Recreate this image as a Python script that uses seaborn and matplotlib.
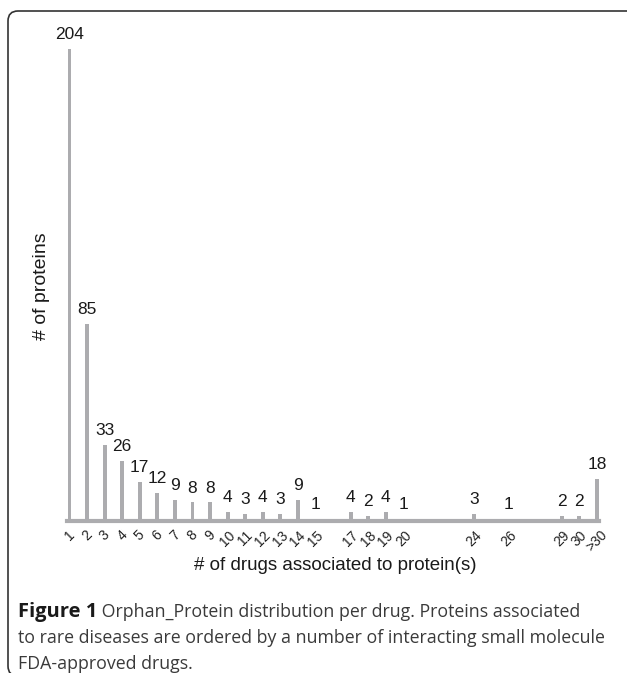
import matplotlib
matplotlib.use("Agg")
import matplotlib.pyplot as plt
import seaborn as sns
import pandas as pd
from matplotlib.patches import FancyBboxPatch
from matplotlib.transforms import IdentityTransform

# ---- data ----
drug_labels = ["1", "2", "3", "4", "5", "6", "7", "8", "9", "10", "11", "12", "13", "14", "15",
               "17", "18", "19", "20", "24", "26", "29", "30", ">30"]
protein_counts = [204, 85, 33, 26, 17, 12, 9, 8, 8, 4, 3, 4, 3, 9, 1,
                  4, 2, 4, 1, 3, 1, 2, 2, 18]
x_title = "# of drugs associated to protein(s)"
y_title = "# of proteins"
caption_bold = "Figure 1"
caption_lines = [" Orphan_Protein distribution per drug. Proteins associated",
                 "to rare diseases are ordered by a number of interacting small molecule",
                 "FDA-approved drugs."]

positions = [31 if l == ">30" else int(l) for l in drug_labels]
df = pd.DataFrame({"pos": positions, "count": protein_counts, "label": drug_labels})

sns.set_theme(style="white")
plt.rcParams["font.family"] = ["Liberation Sans", "DejaVu Sans"]

W, H = 627, 673
fig = plt.figure(figsize=(W / 100, H / 100), dpi=100)
ax = fig.add_axes([67 / W, 1 - 521 / H, (599 - 67) / W, (521 - 49) / H])

bar_color = "#acacaf"
sns.barplot(data=df, x="pos", y="count", native_scale=True, color=bar_color,
            saturation=1, width=0.22, ax=ax, linewidth=0)

ax.set_xlim(0.86, 31.12)
ax.set_ylim(0, 204)
for c in ax.containers:
    ax.bar_label(c, labels=[str(v) for v in protein_counts], padding=5,
                 fontsize=12.5, color="#1a1a1a", clip_on=False)

ax.set_xticks(positions)
ax.set_xticklabels(drug_labels, rotation=45, ha="center", va="top",
                   fontsize=10, color="#222222")
ax.tick_params(axis="x", length=0, pad=5)
ax.set_yticks([])
ax.set_xlabel("")
ax.set_ylabel("")
for s in ["top", "right", "left"]:
    ax.spines[s].set_visible(False)
ax.spines["bottom"].set_color(bar_color)
ax.spines["bottom"].set_linewidth(3)

fig.text(335 / W, 1 - 565 / H, x_title, ha="center", va="center",
         fontsize=13.5, color="#1a1a1a")
fig.text(42 / W, 1 - 286 / H, y_title, ha="center", va="center", rotation=90,
         fontsize=14, color="#1a1a1a")

# caption
cap_font = ["Open Sans", "DejaVu Sans"]
cap_size = 12.8
cap_color = "#3a3a3a"
ys = [612, 638, 664]
fig.canvas.draw()
r = fig.canvas.get_renderer()
tb = fig.text(18 / W, 1 - ys[0] / H, caption_bold, ha="left", va="center",
              fontsize=14.5, fontweight="bold", family=cap_font, color="#1a1a1a")
bb = tb.get_window_extent(renderer=r)
fig.text(bb.x1 / W, 1 - ys[0] / H, caption_lines[0], ha="left", va="center",
         fontsize=cap_size, family=cap_font, color=cap_color)
for line, y in zip(caption_lines[1:], ys[1:]):
    fig.text(18 / W, 1 - y / H, line, ha="left", va="center",
             fontsize=cap_size, family=cap_font, color=cap_color)

# rounded frame
frame = FancyBboxPatch((8, -3), 640, H - 11 + 3, boxstyle="round,pad=0,rounding_size=10",
                       transform=IdentityTransform(), fill=False, edgecolor="#333333",
                       linewidth=1.2)
fig.patches.append(frame)

fig.savefig("out.png", dpi=100)
